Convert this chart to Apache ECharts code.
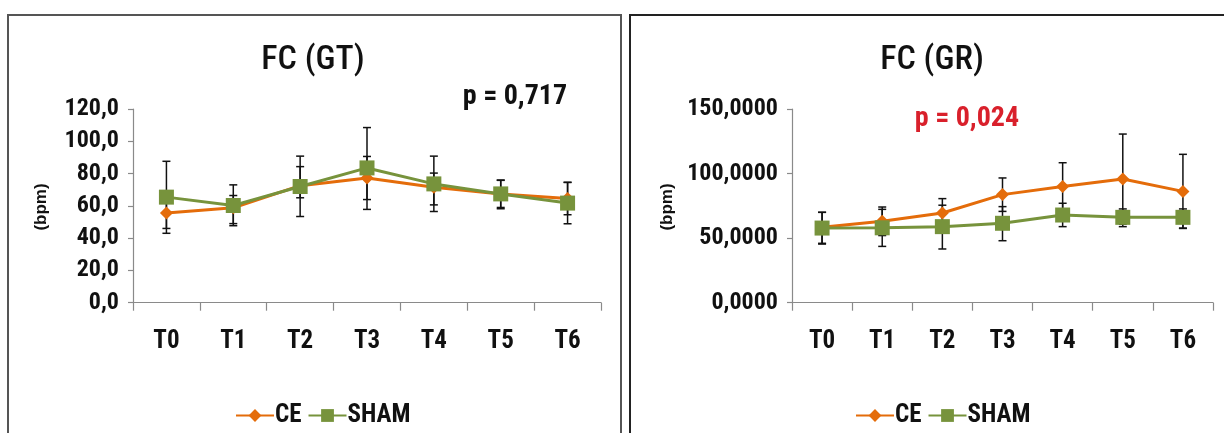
<!DOCTYPE html>
<html>
<head>
<meta charset="utf-8">
<script src="https://cdn.jsdelivr.net/npm/echarts@6/dist/echarts.min.js"></script>
<style>
  html, body { margin: 0; padding: 0; background: #ffffff; }
  #chart { width: 1224px; height: 433px; }
</style>
</head>
<body>
<div id="chart"></div>
<script>
// Time points
const categories = ['T0', 'T1', 'T2', 'T3', 'T4', 'T5', 'T6'];

// FC (GT): mean heart rate (bpm) and error-bar bounds
const gtCE = [55.5, 58.8, 72.5, 77.3, 71.5, 67.4, 64.5];
const gtCELow = [46.0, 49.0, 65.0, 63.9, 60.6, 59.0, 54.5];
const gtCEHigh = [65.0, 66.4, 84.3, 90.6, 80.3, 75.8, 74.5];
const gtSHAM = [65.4, 60.2, 72.0, 83.5, 73.6, 67.4, 61.7];
const gtSHAMLow = [43.0, 47.7, 53.4, 57.8, 56.5, 58.2, 48.9];
const gtSHAMHigh = [87.6, 73.0, 90.8, 108.5, 90.8, 76.0, 74.6];

// FC (GR): mean heart rate (bpm) and error-bar bounds
const grCE = [58.4, 63.0, 69.5, 83.7, 89.9, 95.8, 86.2];
const grCELow = [46.0, 52.0, 58.5, 70.7, 71.4, 60.8, 57.5];
const grCEHigh = [70.0, 74.1, 80.6, 96.6, 108.4, 130.6, 114.9];
const grSHAM = [57.8, 58.0, 58.9, 61.5, 67.9, 66.1, 66.1];
const grSHAMLow = [45.4, 43.6, 41.6, 48.0, 58.9, 58.9, 57.8];
const grSHAMHigh = [70.0, 72.3, 75.5, 74.4, 77.0, 72.6, 72.6];

// Axis settings
const gtTicks = { min: 0, max: 120, interval: 20, decimals: 1 };
const grTicks = { min: 0, max: 150, interval: 50, decimals: 4 };

const titles = ['FC (GT)', 'FC (GR)'];
const pValues = ['p = 0,717', 'p = 0,024'];
const yName = '(bpm)';

const NARROW = "'Liberation Sans Narrow', 'Arial Narrow', 'Roboto Condensed', sans-serif";
const ORANGE = '#E46C0A';
const GREEN = '#77933C';
const AXIS = '#8a8a8a';

const chart = echarts.init(document.getElementById('chart'), null, { renderer: 'canvas' });

function commaFmt(decimals) {
  return v => v.toFixed(decimals).replace('.', ',');
}

function makeX(gridIndex) {
  return {
    type: 'category', gridIndex, data: categories, boundaryGap: true,
    axisLine: { lineStyle: { color: AXIS, width: 1.2 } },
    axisTick: { show: true, length: 8, lineStyle: { color: AXIS, width: 1.2 } },
    axisLabel: { color: '#111', fontFamily: NARROW, fontWeight: 'bold', fontSize: 25, margin: 27 },
    splitLine: { show: false }
  };
}

function makeY(gridIndex, t) {
  return {
    type: 'value', gridIndex, min: t.min, max: t.max, interval: t.interval,
    axisLine: { show: true, lineStyle: { color: AXIS, width: 1.2 } },
    axisTick: { show: true, length: 5, lineStyle: { color: AXIS, width: 1.2 } },
    axisLabel: { color: '#111', fontFamily: NARROW, fontWeight: 'bold', fontSize: 24, margin: 14,
                 formatter: commaFmt(t.decimals) },
    splitLine: { show: false }
  };
}

function lineSeries(name, data, idx, color, symbol, size) {
  return {
    name, type: 'line', xAxisIndex: idx, yAxisIndex: idx, data,
    symbol, symbolSize: size, z: 5,
    lineStyle: { color, width: 3 },
    itemStyle: { color, borderWidth: 0 },
    emphasis: { disabled: true }
  };
}

function errorSeries(name, low, high, idx) {
  return {
    name, type: 'custom', xAxisIndex: idx, yAxisIndex: idx, z: 3,
    data: categories.map((c, i) => [i, low[i], high[i]]),
    encode: { x: 0, y: [1, 2] },
    renderItem: function (params, api) {
      const i = api.value(0);
      const lo = api.coord([i, api.value(1)]);
      const hi = api.coord([i, api.value(2)]);
      const cap = 4;
      const st = { stroke: '#111', lineWidth: 1.5 };
      return {
        type: 'group',
        children: [
          { type: 'line', shape: { x1: lo[0], y1: lo[1], x2: hi[0], y2: hi[1] }, style: st },
          { type: 'line', shape: { x1: lo[0] - cap, y1: lo[1], x2: lo[0] + cap, y2: lo[1] }, style: st },
          { type: 'line', shape: { x1: hi[0] - cap, y1: hi[1], x2: hi[0] + cap, y2: hi[1] }, style: st }
        ]
      };
    }
  };
}

function legend(left) {
  return {
    data: ['CE', 'SHAM'],
    left, top: 398, itemWidth: 38, itemHeight: 16, itemGap: 6,
    textStyle: { color: '#111', fontFamily: NARROW, fontWeight: 'bold', fontSize: 25, padding: [0, 0, 0, -4] },
    selectedMode: false
  };
}

function textEl(text, x, y, size, weight, color, rotation) {
  return {
    type: 'text', x, y, rotation: rotation || 0, z: 10,
    style: { text, align: 'center', verticalAlign: 'middle', fill: color,
             font: weight + ' ' + size + 'px ' + NARROW }
  };
}

const option = {
  animation: false,
  backgroundColor: '#ffffff',
  grid: [
    { left: 133, right: 1224 - 601, top: 109, bottom: 433 - 302.7 },
    { left: 792, right: 1224 - 1213, top: 109, bottom: 433 - 302.7 }
  ],
  xAxis: [makeX(0), makeX(1)],
  yAxis: [makeY(0, gtTicks), makeY(1, grTicks)],
  legend: [legend(230), legend(850)],
  series: [
    errorSeries('CE error', gtCELow, gtCEHigh, 0),
    errorSeries('SHAM error', gtSHAMLow, gtSHAMHigh, 0),
    lineSeries('CE', gtCE, 0, ORANGE, 'diamond', 13),
    lineSeries('SHAM', gtSHAM, 0, GREEN, 'rect', 15),
    errorSeries('CE error', grCELow, grCEHigh, 1),
    errorSeries('SHAM error', grSHAMLow, grSHAMHigh, 1),
    lineSeries('CE', grCE, 1, ORANGE, 'diamond', 13),
    lineSeries('SHAM', grSHAM, 1, GREEN, 'rect', 15)
  ],
  graphic: [
    // panel frames
    { type: 'rect', shape: { x: 8, y: 15, width: 613, height: 430 }, z: 0,
      style: { fill: 'none', stroke: '#555', lineWidth: 2 } },
    { type: 'rect', shape: { x: 630, y: 15, width: 610, height: 430 }, z: 0,
      style: { fill: 'none', stroke: '#222', lineWidth: 2 } },
    textEl(titles[0], 313, 60, 34, '500', '#111'),
    textEl(titles[1], 932, 60, 34, '500', '#111'),
    textEl(pValues[0], 515, 97, 28, 'bold', '#111'),
    textEl(pValues[1], 967, 119, 28, 'bold', '#D9202B'),
    { type: 'text', x: 41, y: 207, rotation: Math.PI / 2, z: 10,
      style: { text: yName, align: 'center', verticalAlign: 'middle', fill: '#111',
               font: "bold 17px 'Liberation Sans', Arial, sans-serif" } },
    { type: 'text', x: 667, y: 207, rotation: Math.PI / 2, z: 10,
      style: { text: yName, align: 'center', verticalAlign: 'middle', fill: '#111',
               font: "bold 17px 'Liberation Sans', Arial, sans-serif" } }
  ]
};

chart.setOption(option);
</script>
</body>
</html>
